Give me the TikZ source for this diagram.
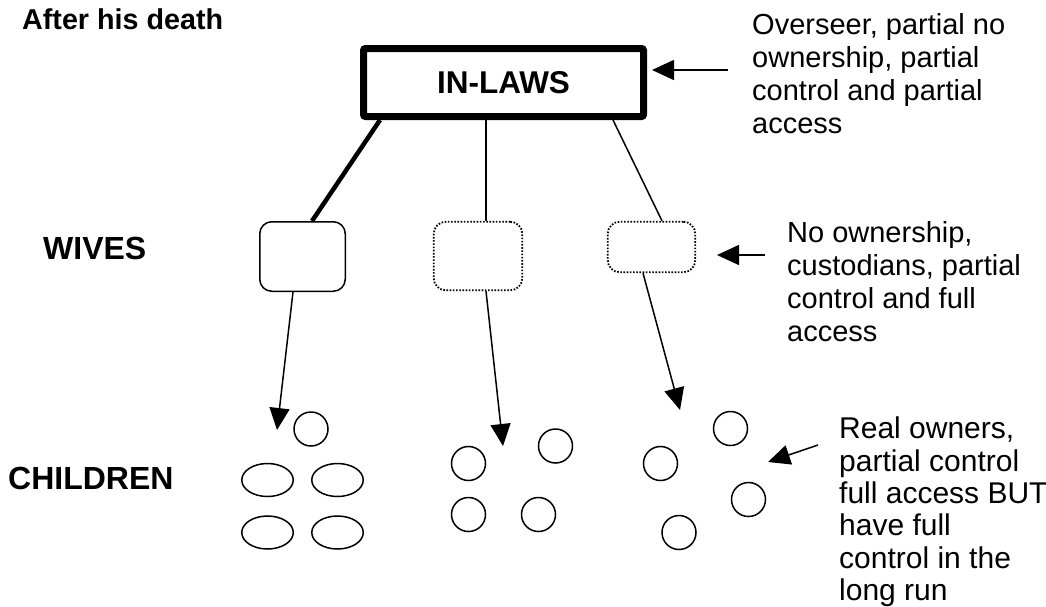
\documentclass[tikz,border=0pt]{standalone}
\usepackage{fontspec}
\setmainfont{Liberation Sans}
\usepackage{tikz}
\usetikzlibrary{shapes.geometric, arrows.meta, positioning}

\begin{document}
\begin{tikzpicture}[x=1pt, y=-1pt,
    inlawbox/.style={draw, line width=7pt, rounded corners=2pt, minimum width=280pt, minimum height=68pt, inner sep=0pt, font=\fontsize{31.5}{36}\selectfont\bfseries},
    wifebox/.style={draw, line width=1.5pt, rounded corners=12pt, inner sep=0pt},
    wifedots/.style={wifebox, line width=1.8pt, dash pattern=on 1.6pt off 1.6pt},
    kid/.style={draw, circle, line width=1.5pt, minimum size=34pt, inner sep=0pt},
    kidoval/.style={draw, ellipse, line width=1.5pt, minimum width=51.5pt, minimum height=33pt, inner sep=0pt},
    pointer/.style={line width=1.5pt, -{Triangle[length=22pt, width=20pt]}},
    link/.style={line width=1.5pt},
    rowlabel/.style={anchor=base west, inner sep=0pt, font=\fontsize{32}{36}\selectfont\bfseries},
    remark/.style={anchor=north west, inner sep=0pt, align=left, font=\fontsize{29}{33}\selectfont}]

    % Taille de l'image
    \useasboundingbox (0,0) rectangle (1046,606);

    % Titres des rangees
    \node[rowlabel, font=\fontsize{28.7}{32}\selectfont\bfseries] (title) at (22,29) {After his death};
    \node[rowlabel] (wiveslbl) at (43,259) {WIVES};
    \node[rowlabel] (kidslbl) at (8,489) {CHILDREN};

    % Belle-famille
    \node[inlawbox] (inlaws) at (503.5,82.5) {IN-LAWS};

    % Epouses
    \node[wifebox, minimum width=85.5pt, minimum height=69.5pt] (wifeA) at (302.5,256.5) {};
    \node[wifedots, minimum width=88.5pt, minimum height=68.5pt] (wifeB) at (478,256) {};
    \node[wifedots, minimum width=87.5pt, minimum height=50.5pt] (wifeC) at (651.5,247) {};

    % Liens belle-famille -> epouses
    \draw[line width=4.5pt] ([xshift=20pt]inlaws.south west) -- ([xshift=9.5pt]wifeA.north);
    \draw[link] ([xshift=-17.5pt]inlaws.south) -- ([xshift=8pt]wifeB.north);
    \draw[link] ([xshift=-34pt]inlaws.south east) -- ([xshift=10.5pt]wifeC.north);

    % Enfants
    \node[kid] (kidA1) at (311,429) {};
    \foreach \i/\x/\y in {2/267.5/480, 3/337.5/480, 4/267.5/532.5, 5/337.5/532.5}
        \node[kidoval] (kidA\i) at (\x,\y) {};
    \foreach \i/\x/\y in {1/468.5/463.5, 2/555.5/446, 3/468.5/514.5, 4/538.5/514.5}
        \node[kid] (kidB\i) at (\x,\y) {};
    \foreach \i/\x/\y in {1/660.5/463.5, 2/730.5/428.5, 3/748.5/499.5, 4/679/532.5}
        \node[kid] (kidC\i) at (\x,\y) {};

    % Fleches epouses -> enfants
    \coordinate (tipA) at (277,430);
    \coordinate (tipB) at (503,446);
    \coordinate (tipC) at (680,410);
    \draw[pointer] ([xshift=-9.5pt]wifeA.south) -- (tipA);
    \draw[pointer] ([xshift=8pt]wifeB.south) -- (tipB);
    \draw[pointer] ([xshift=-8.5pt]wifeC.south) -- (tipC);

    % Commentaires
    \node[remark] (overseer) at (752,13) {Overseer, partial no\\ownership, partial\\control and partial\\access};
    \node[remark] (custody) at (787,221) {No ownership,\\custodians, partial\\control and full\\access};
    \node[remark, font=\fontsize{30}{32.3}\selectfont] (owners) at (839,417) {Real owners,\\partial control\\full access BUT\\have full\\control in the\\long run};

    % Fleches des commentaires
    \coordinate (overTail) at (728,70);
    \coordinate (custTail) at (765,255);
    \coordinate (custTip) at (717,255);
    \coordinate (ownTail) at (818,445);
    \coordinate (ownTip) at (768,462);
    \draw[pointer, shorten >=5pt] (overTail) -- (inlaws.east |- overTail);
    \draw[pointer] (custTail) -- (custTip);
    \draw[pointer] (ownTail) -- (ownTip);

\end{tikzpicture}
\end{document}
